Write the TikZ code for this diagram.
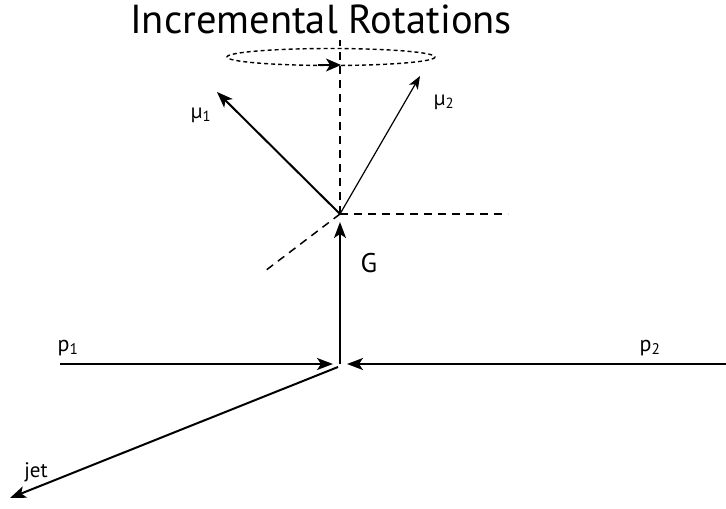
\documentclass[tikz,border=0pt]{standalone}
\usepackage{fontspec}
\setmainfont{PT Sans}
\usetikzlibrary{positioning, arrows.meta}
\tikzset{
  vec/.style={line width=2pt, -{Stealth[length=16pt, width=12pt, inset=4pt]}},
  thinvec/.style={line width=1.2pt, -{Stealth[length=13pt, width=10pt, inset=3.5pt]}},
  axisline/.style={line width=1.5pt, dash pattern=on 8pt off 6pt},
  orbit/.style={line width=1.4pt, dash pattern=on 4pt off 3pt},
  lbl/.style={font=\fontsize{22}{24}\selectfont, anchor=base, inner sep=0pt},
}

\begin{document}
\begin{tikzpicture}[x=1pt, y=-1pt]

    \useasboundingbox (0,0) rectangle (726,509);

    % Key points (pixel grid of the figure, y downwards)
    \coordinate (V)     at (340,214);   % decay vertex
    \coordinate (Hit)   at (340,364);   % collision point
    \coordinate (Gtip)  at (340,222);
    \coordinate (Atop)  at (340,40);
    \coordinate (Hend)  at (508,214);
    \coordinate (Dend)  at (265,271);
    \coordinate (muA)   at (217,92);
    \coordinate (muB)   at (420,76);
    \coordinate (pAin)  at (60,364);
    \coordinate (pAtip) at (333,364);
    \coordinate (pBin)  at (726,364);
    \coordinate (pBtip) at (347,364);
    \coordinate (jetA)  at (338,367);
    \coordinate (jetB)  at (10,498);
    \coordinate (Orb)   at (331,57);    % centre of the rotation ellipse
    \coordinate (OrbA)  at (318,65);
    \coordinate (OrbB)  at (341,65);

    % --- TITLE ---
    \node[anchor=base, inner sep=0pt, font=\fontsize{40.5}{44}\selectfont] (title) at (321,33) {Incremental Rotations};

    % --- ROTATION AXES ---
    \draw[axisline] (V) -- (Atop);
    \draw[axisline] (V) -- (Hend);
    \draw[axisline] (V) -- (Dend);

    % Rotation ellipse with its arrow
    \draw[orbit] (Orb) ellipse [x radius=104, y radius=8.5];
    \draw[line width=1.4pt, -{Stealth[length=15pt, width=13pt, inset=4pt]}] (OrbA) -- (OrbB);

    % --- DECAY PRODUCTS ---
    \draw[vec] (V) -- (muA);
    \draw[thinvec] (V) -- (muB);
    \draw[vec] (Hit) -- (Gtip);

    % --- INCOMING BEAMS AND JET ---
    \draw[vec] (pAin) -- (pAtip);
    \draw[vec] (pBin) -- (pBtip);
    \draw[vec] (jetA) -- (jetB);

    % Labels
    \node[lbl, font=\fontsize{21}{23}\selectfont] (muAlbl) at (201,118) {µ\textsubscript{1}};
    \node[lbl, font=\fontsize{21}{23}\selectfont] (muBlbl) at (444,105) {µ\textsubscript{2}};
    \node[lbl, font=\fontsize{27}{29}\selectfont] (Glbl) at (369,272) {G};
    \node[lbl] (pAlbl) at (68,351) {p\textsubscript{1}};
    \node[lbl] (pBlbl) at (650,351) {p\textsubscript{2}};
    \node[lbl, font=\fontsize{21}{23}\selectfont] (jetlbl) at (36,477) {jet};

\end{tikzpicture}
\end{document}
